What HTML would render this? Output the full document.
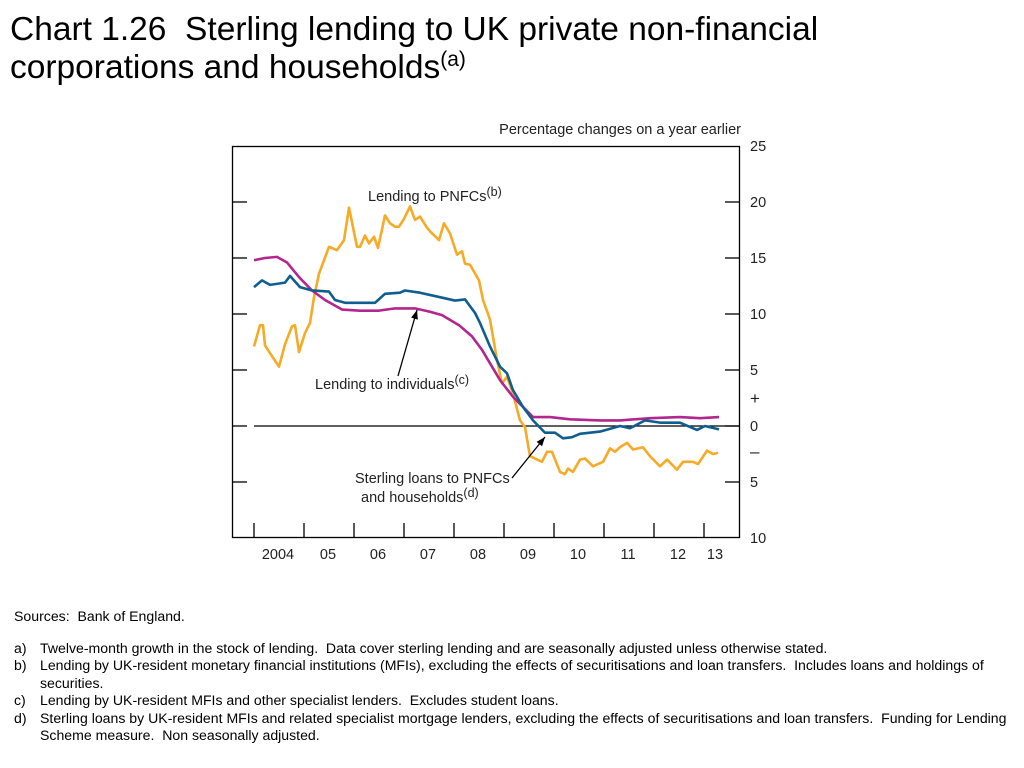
<!DOCTYPE html>
<html><head><meta charset="utf-8"><style>
body{margin:0;width:1024px;height:768px;background:#fff;font-family:"Liberation Sans",sans-serif;position:relative;overflow:hidden}
.t{position:absolute;left:10px;font-size:33.5px;color:#000;line-height:38px}
.fn{position:absolute;font-size:14.1px;color:#000;line-height:17.4px}
.row{display:flex}
.fl{width:26px;flex:none}
.ft{width:980px}
</style></head><body>
<div class="t" style="top:11px">Chart 1.26&nbsp; Sterling lending to UK private non-financial<br>corporations and households<sup style="font-size:21px;line-height:0">(a)</sup></div>
<svg id="c" width="1024" height="600" style="position:absolute;left:0;top:0"></svg>
<div class="fn" style="left:14px;top:608px">Sources:&nbsp; Bank of England.</div>
<div class="fn" style="top:640px;left:14px;width:1008px">
<div class="row"><span class="fl">a)</span><span class="ft">Twelve-month growth in the stock of lending.&nbsp; Data cover sterling lending and are seasonally adjusted unless otherwise stated.</span></div>
<div class="row"><span class="fl">b)</span><span class="ft">Lending by UK-resident monetary financial institutions (MFIs), excluding the effects of securitisations and loan transfers.&nbsp; Includes loans and holdings of securities.</span></div>
<div class="row"><span class="fl">c)</span><span class="ft">Lending by UK-resident MFIs and other specialist lenders.&nbsp; Excludes student loans.</span></div>
<div class="row"><span class="fl">d)</span><span class="ft">Sterling loans by UK-resident MFIs and related specialist mortgage lenders, excluding the effects of securitisations and loan transfers.&nbsp; Funding for Lending Scheme measure.&nbsp; Non seasonally adjusted.</span></div>
</div>
<script>
const yTicks=[25,20,15,10,5,0,-5,-10];
const yTickLabels=["25","20","15","10","5","0","5","10"];
const xYears=[2004,2005,2006,2007,2008,2009,2010,2011,2012,2013];
const xLabels=["2004","05","06","07","08","09","10","11","12","13"];
const indivDates=[2004.02,2004.24,2004.48,2004.68,2004.92,2005.18,2005.44,2005.78,2006.14,2006.52,2006.84,2007.24,2007.54,2007.78,2008.12,2008.38,2008.58,2008.74,2008.94,2009.2,2009.4,2009.6,2009.94,2010.34,2010.94,2011.34,2011.94,2012.54,2012.94,2013.32];
const indivVals=[14.8,15.0,15.1,14.6,13.3,12.1,11.25,10.4,10.3,10.3,10.5,10.5,10.2,9.9,9.0,8.0,6.8,5.6,4.1,2.6,1.7,0.8,0.8,0.6,0.5,0.5,0.7,0.8,0.7,0.8];
const totalDates=[2004.02,2004.18,2004.34,2004.64,2004.74,2004.94,2005.18,2005.52,2005.64,2005.84,2006.14,2006.44,2006.64,2006.94,2007.04,2007.34,2007.74,2008.04,2008.24,2008.44,2008.54,2008.74,2008.94,2009.08,2009.2,2009.4,2009.6,2009.84,2010.04,2010.2,2010.38,2010.54,2010.94,2011.34,2011.54,2011.84,2012.14,2012.54,2012.88,2013.04,2013.32];
const totalVals=[12.4,13.0,12.6,12.8,13.4,12.4,12.1,12.0,11.25,11.0,11.0,11.0,11.8,11.9,12.1,11.9,11.5,11.2,11.3,10.1,9.2,7.1,5.3,4.7,3.2,1.7,0.5,-0.6,-0.6,-1.1,-1.0,-0.7,-0.5,0.0,-0.2,0.5,0.3,0.3,-0.35,0.0,-0.3];
const pnfcDates=[2004.02,2004.14,2004.2,2004.24,2004.34,2004.52,2004.64,2004.78,2004.84,2004.92,2005.04,2005.14,2005.22,2005.32,2005.52,2005.68,2005.82,2005.92,2006.08,2006.14,2006.24,2006.32,2006.42,2006.5,2006.64,2006.74,2006.84,2006.92,2007.02,2007.14,2007.24,2007.34,2007.48,2007.58,2007.72,2007.82,2007.94,2008.08,2008.18,2008.24,2008.34,2008.52,2008.6,2008.74,2008.88,2008.98,2009.08,2009.2,2009.34,2009.44,2009.54,2009.78,2009.88,2009.98,2010.14,2010.24,2010.3,2010.4,2010.54,2010.64,2010.8,2011.0,2011.14,2011.24,2011.34,2011.48,2011.6,2011.8,2011.94,2012.14,2012.28,2012.48,2012.6,2012.8,2012.9,2013.08,2013.2,2013.3];
const pnfcVals=[7.1,9.0,9.0,7.2,6.5,5.3,7.3,8.9,9.0,6.6,8.3,9.2,11.5,13.6,16.0,15.7,16.6,19.5,16.0,16.0,17.0,16.3,16.9,15.9,18.8,18.1,17.8,17.8,18.5,19.6,18.4,18.7,17.7,17.2,16.6,18.1,17.2,15.3,15.6,14.5,14.4,13.0,11.25,9.5,5.9,3.8,4.4,2.9,0.5,-0.1,-2.7,-3.2,-2.3,-2.3,-4.1,-4.3,-3.8,-4.1,-3.0,-2.9,-3.6,-3.2,-2.0,-2.3,-1.9,-1.5,-2.1,-1.9,-2.7,-3.6,-3.0,-3.9,-3.2,-3.2,-3.4,-2.2,-2.5,-2.4];

const svg=document.getElementById('c');const NS='http://www.w3.org/2000/svg';
const X=t=>253+(t-2004)*50;
const Y=v=>426-v*11.2;
function mk(tag,attrs,parent){const e=document.createElementNS(NS,tag);for(const k in attrs)e.setAttribute(k,attrs[k]);(parent||svg).appendChild(e);return e;}
const frame=mk('rect',{x:232.5,y:146.5,width:507,height:391,fill:'none',stroke:'#000','stroke-width':1.3});


yTicks.forEach((v,i)=>{
 if(v<25&&v>-10){
  const l=mk('line',{x1:232,x2:247,y1:Y(v),y2:Y(v),stroke:'#000','stroke-width':1.3});
  
  
  const r=mk('line',{x1:725,x2:740,y1:Y(v),y2:Y(v),stroke:'#000','stroke-width':1.3});
  
  
 }
 const t=mk('text',{x:750,y:Y(v)+5,'font-size':14.5,fill:'#222','font-family':'Liberation Sans'});
 t.textContent=yTickLabels[i];
 
 
});
const zl=mk('line',{x1:254,x2:740,y1:Y(0),y2:Y(0),stroke:'#000','stroke-width':1.3});


const plus=mk('text',{x:750,y:404,'font-size':17,fill:'#222'});plus.textContent='+';


const minus=mk('text',{x:750,y:457,'font-size':17,fill:'#222'});minus.textContent='\u2013';


xYears.forEach((yr,i)=>{
 const l=mk('line',{x1:X(yr)+1,x2:X(yr)+1,y1:523,y2:538,stroke:'#000','stroke-width':1.3});
 
 
 const t=mk('text',{x:X(yr)+25,y:559,'font-size':14.5,fill:'#222','text-anchor':'middle'});
 if(i===xYears.length-1)t.setAttribute('x',X(yr)+12);
 t.textContent=xLabels[i];
 
 
});
const ut=mk('text',{x:741,y:134,'font-size':14.5,fill:'#222','text-anchor':'end'});ut.textContent='Percentage changes on a year earlier';


function line(d,v,col,name){const p=mk('polyline',{points:d.map((t,i)=>X(t)+','+Y(v[i])).join(' '),fill:'none',stroke:col,'stroke-width':2.6,'stroke-linejoin':'round'});
 
 }
line(pnfcDates,pnfcVals,'#f7aa25','pnfc-lending-line');
line(indivDates,indivVals,'#b1268f','individuals-lending-line');
line(totalDates,totalVals,'#0f5e8f','sterling-loans-line');
function lab(x,y,txt,sup,name){const t=mk('text',{x:x,y:y,'font-size':14.5,fill:'#222'});t.textContent=txt;
 const s=mk('tspan',{dy:-5,'font-size':12.5},t);s.textContent=sup;
 
 }
lab(368,201,'Lending to PNFCs','(b)','pnfc-annotation');
lab(315,389,'Lending to individuals','(c)','individuals-annotation');
const s1=mk('text',{x:355,y:483,'font-size':14.5,fill:'#222'});s1.textContent='Sterling loans to PNFCs';


lab(361,502,'and households','(d)','sterling-annotation-line2');
function arrow(x1,y1,x2,y2,name){const a=mk('line',{x1:x1,y1:y1,x2:x2,y2:y2,stroke:'#000','stroke-width':1.3});
 
 
 const ang=Math.atan2(y2-y1,x2-x1),L=9,W=3.5;
 const bx=x2-L*Math.cos(ang),by=y2-L*Math.sin(ang);
 const h=mk('polygon',{points:`${x2},${y2} ${bx-W*Math.sin(ang)},${by+W*Math.cos(ang)} ${bx+W*Math.sin(ang)},${by-W*Math.cos(ang)}`,fill:'#000'});
 
 }
arrow(398,376,417,310,'individuals-arrow');
arrow(512,478,545,437,'sterling-arrow');
</script>
</body></html>
